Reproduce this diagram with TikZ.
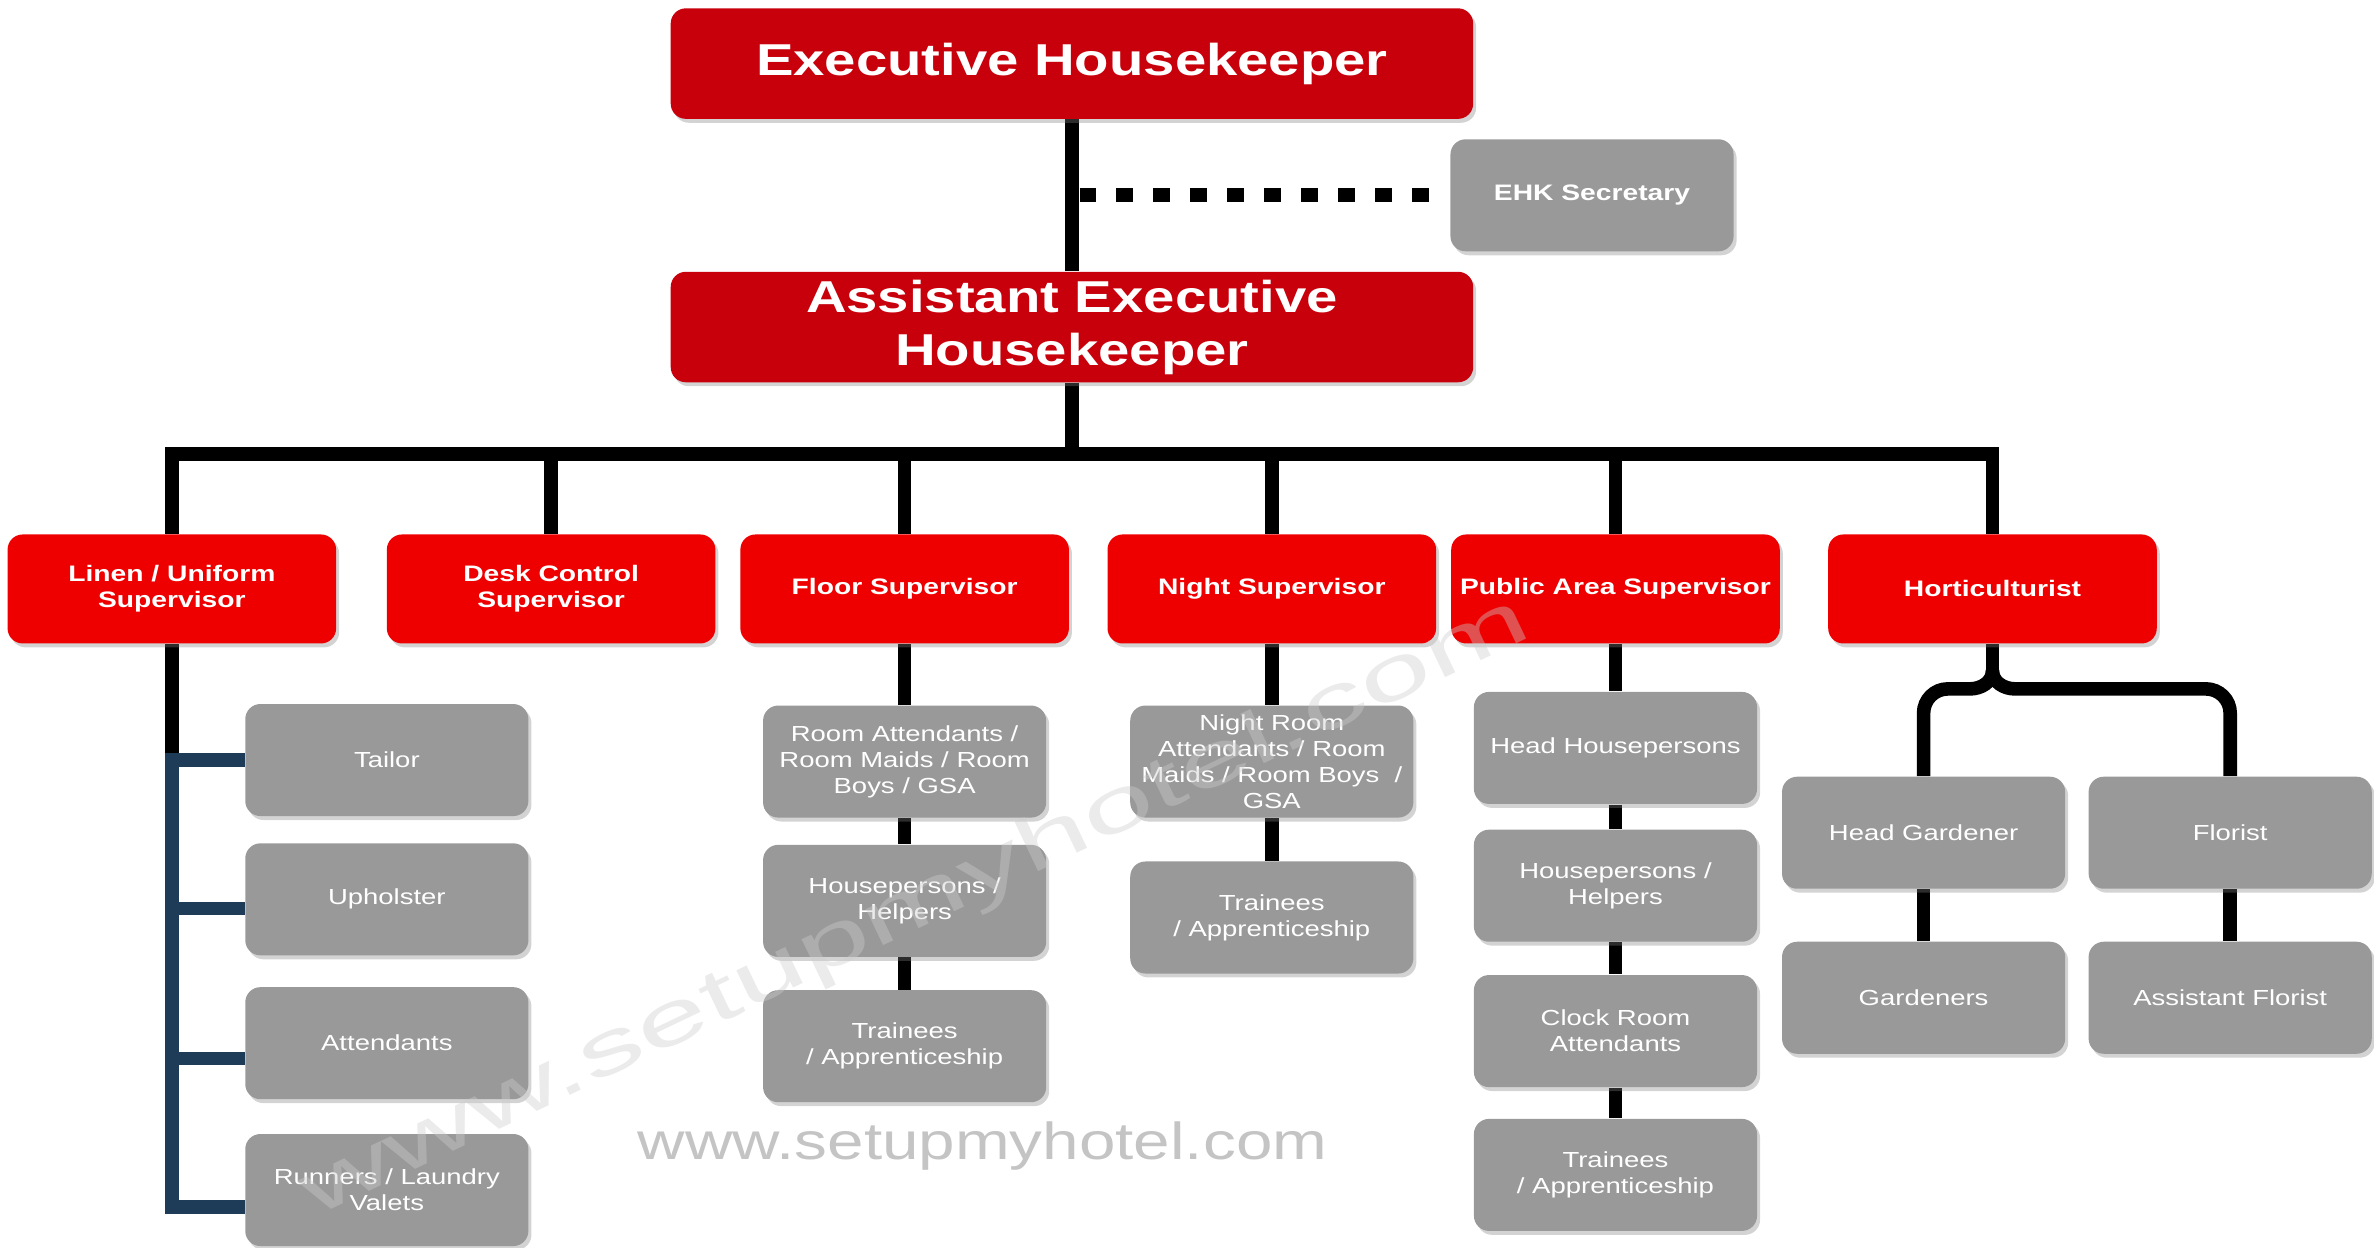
\documentclass[tikz,border=0pt]{standalone}
\usepackage{fontspec}
\usetikzlibrary{shadows,calc}
\newfontfamily\hfont[FakeStretch=1.26]{Liberation Sans}
\newfontfamily\wmstretchfont[FakeStretch=1.7]{Liberation Sans}
\newcommand\ttlfont{\hfont\bfseries\fontsize{14.75pt}{17.5pt}\selectfont}
\newcommand\supfont{\hfont\bfseries\fontsize{7.4pt}{8.5pt}\selectfont}
\newcommand\grfont{\hfont\fontsize{7.2pt}{8.6pt}\selectfont}
\newcommand\wmfont{\hfont\fontsize{17.2pt}{20pt}\selectfont}
\newcommand\wmbigfont{\wmstretchfont\fontsize{25pt}{30pt}\selectfont}
\definecolor{topred}{RGB}{200,0,12}
\definecolor{supred}{RGB}{238,0,0}
\definecolor{boxgray}{RGB}{153,153,153}
\definecolor{linkblue}{RGB}{30,60,88}
\definecolor{wmgray}{RGB}{196,196,196}
\pgfdeclarelayer{bg}
\pgfsetlayers{bg,main}
\tikzset{
  box/.style={rounded corners=5pt, inner sep=0pt, align=center, text=white,
    drop shadow={shadow xshift=1pt, shadow yshift=-1.3pt, opacity=0.35}},
  topbox/.style={box, fill=topred, minimum width=265pt, minimum height=36.5pt, font=\ttlfont},
  supbox/.style={box, fill=supred, minimum width=108.5pt, minimum height=36pt, font=\supfont},
  graybox/.style={box, fill=boxgray, minimum width=93.5pt, minimum height=37pt, font=\grfont},
  secbox/.style={box, fill=boxgray, minimum width=93.5pt, minimum height=37pt, font=\supfont},
  conn/.style={line width=4.5pt, black, line join=miter},
  blueconn/.style={line width=4.5pt, linkblue, line join=miter},
  dotline/.style={line width=4.5pt, black, dash pattern=on 5.5pt off 6.7pt},
}
\begin{document}
\begin{tikzpicture}[x=0.5pt,y=-0.5pt]
\useasboundingbox (0,0) rectangle (1568,824);
% top
\node[topbox] (eh) at (708,42) {Executive Housekeeper};
\node[secbox] (sec) at (1051.5,129) {EHK Secretary};
\node[topbox] (aeh) at (708,216) {Assistant Executive\\Housekeeper};
% supervisors
\node[supbox] (lin) at (113.5,389) {Linen / Uniform\\Supervisor};
\node[supbox] (desk) at (364,389) {Desk Control\\Supervisor};
\node[supbox] (floor) at (597.5,389) {Floor Supervisor};
\node[supbox] (night) at (840,389) {Night Supervisor};
\node[supbox] (pub) at (1067,389) {Public Area Supervisor};
\node[supbox] (hort) at (1316,389) {Horticulturist};
% linen children
\node[graybox] (tailor) at (255.5,502) {Tailor};
\node[graybox] (uph) at (255.5,594) {Upholster};
\node[graybox] (att) at (255.5,689) {Attendants};
\node[graybox] (run) at (255.5,786) {Runners / Laundry\\Valets};
% floor children
\node[graybox] (fa) at (597.5,503) {Room Attendants /\\Room Maids / Room\\Boys / GSA};
\node[graybox] (fb) at (597.5,595) {Housepersons /\\Helpers};
\node[graybox] (fc) at (597.5,691) {Trainees\\/ Apprenticeship};
% night children
\node[graybox] (na) at (840,503) {Night Room\\Attendants / Room\\Maids / Room Boys~~/\\GSA};
\node[graybox] (nb) at (840,606) {Trainees\\/ Apprenticeship};
% public area children
\node[graybox] (pa) at (1067,494) {Head Housepersons};
\node[graybox] (pb) at (1067,585) {Housepersons /\\Helpers};
\node[graybox] (pc) at (1067,681) {Clock Room\\Attendants};
\node[graybox] (pd) at (1067,776) {Trainees\\/ Apprenticeship};
% horticulture children
\node[graybox] (hg) at (1270.5,550) {Head Gardener};
\node[graybox] (flo) at (1473,550) {Florist};
\node[graybox] (gard) at (1270.5,659) {Gardeners};
\node[graybox] (af) at (1473,659) {Assistant Florist};

\begin{pgfonlayer}{bg}
  % top connectors
  \draw[conn] (eh.south) -- (aeh.north);
  \coordinate (dj) at (eh.south |- sec.west);
  \draw[dotline] ([xshift=2.5pt]dj) -- ([xshift=-7pt]sec.west);
  \coordinate (barL) at (113.5,300);
  \draw[conn] (aeh.south) -- (aeh.south |- barL);
  \draw[conn] (lin.north) -- (lin.north |- barL) -- (hort.north |- barL) -- (hort.north);
  \foreach \s in {desk,floor,night,pub} {
    \draw[conn] (\s.north) -- (\s.north |- barL);
  }
  % linen
  \coordinate (ub) at ([yshift=-3pt]uph.west);
  \coordinate (ab) at ([yshift=-5pt]att.west);
  \coordinate (rb) at ([yshift=-5.5pt]run.west);
  \draw[conn] (lin.south) -- (tailor.west -| lin.south);
  \draw[blueconn] (tailor.west) -- (tailor.west -| lin.south) -- (rb -| lin.south) -- (rb);
  \draw[blueconn] (ub) -- (ub -| lin.south);
  \draw[blueconn] (ab) -- (ab -| lin.south);
  % floor
  \draw[conn] (floor.south) -- (fa.north);
  \draw[conn] (fa.south) -- (fb.north);
  \draw[conn] (fb.south) -- (fc.north);
  % night
  \draw[conn] (night.south) -- (na.north);
  \draw[conn] (na.south) -- (nb.north);
  % public
  \draw[conn] (pub.south) -- (pa.north);
  \draw[conn] (pa.south) -- (pb.north);
  \draw[conn] (pb.south) -- (pc.north);
  \draw[conn] (pc.south) -- (pd.north);
  % horticulture
  \coordinate (hj) at (1316,443);
  \draw[conn] (hort.south) -- (hj);
  \draw[conn] (hg.north) [rounded corners=8pt] -- (hg.north |- 0,455) [sharp corners] -- (1301,455) to[out=0,in=-90] (hj);
  \draw[conn] (flo.north) [rounded corners=8pt] -- (flo.north |- 0,455) [sharp corners] -- (1331,455) to[out=180,in=-90] (hj);
  \draw[conn] (hg.south) -- (gard.north);
  \draw[conn] (flo.south) -- (af.north);
\end{pgfonlayer}

% watermarks
\node[font=\wmfont, text=wmgray, inner sep=0pt] (wm) at (649,757) {www.setupmyhotel.com};
\node[font=\wmbigfont, text=white!80!black, text opacity=0.4, rotate=25.5, inner sep=0pt] (wmd) at (605,600) {www.setupmyhotel.com};
\end{tikzpicture}
\end{document}
